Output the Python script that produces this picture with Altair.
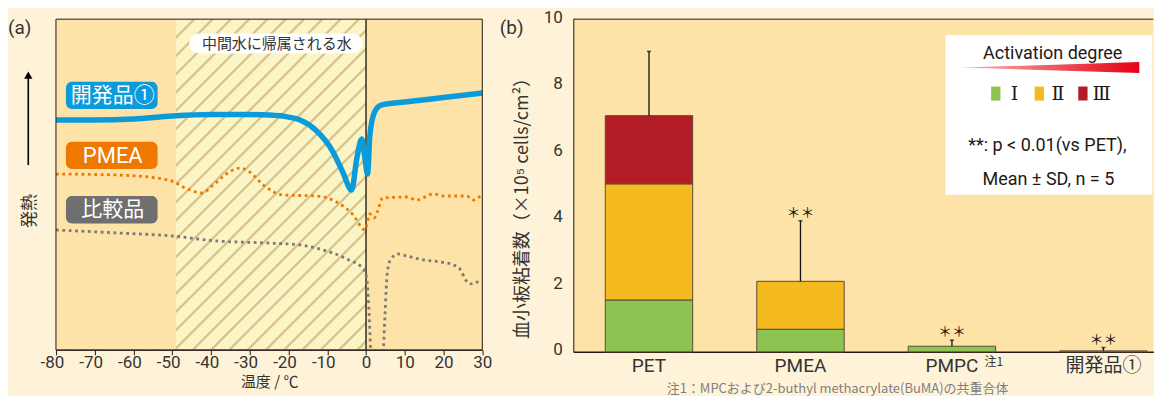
import altair as alt
import numpy as np
import pandas as pd

# ---------------- panel (a): DSC curves (temperature / °C, relative heat flow, arb. units) ----------------
dev_t = [-80, -70, -60, -50, -40, -30, -25, -20, -17, -13, -8.5, -6, -3.7, -2.4, -1.1, -0.4, 0.4, 1.0, 2.2, 3.9, 10, 20, 30]
dev_v = [230, 230, 231, 234, 235.5, 235.5, 235, 233, 230, 220, 198, 178, 160, 191, 211, 195, 176, 215, 238, 245, 248, 252.5, 257]

pmea_t = [-80, -64, -51, -46, -42.4, -39.4, -36, -32.5, -30, -26.5, -21.3, -12.7, -7.6, -3.3, -0.3, 1.0, 2.1, 2.9, 4.3, 10.5, 13, 17.4, 20, 26, 27.7, 30]
pmea_v = [176, 175, 170, 161, 157, 165, 176, 182, 178, 165, 155, 154, 148, 135, 120, 136, 132, 138, 152, 153, 150, 156, 154, 154, 150, 156]

ref_t = [-80, -64, -50, -38.5, -25.6, -17, -12, -5, -0.7, 0.2, 0.6, 1.0, 1.3, 2.0, 3.8, 4.5, 4.9, 5.5, 6.4, 8.3, 10.5, 14.8, 19.2, 22.6, 24.4, 25.7, 27, 28.3, 29.5]
ref_v = [120, 117, 114, 109, 107, 105, 101, 91, 81, 71, 51, 18, -10, -40, -40, 1, 35, 78, 91, 96, 94, 90, 88, 85, 80, 70, 66, 68, 67]

x_ticks_a = [-80, -70, -60, -50, -40, -30, -20, -10, 0, 10, 20, 30]
hatch_region = [-49, 0]          # 中間水に帰属される水
outer_regions_start = [-80, 0]
outer_regions_end = [-49, 30]

# ---------------- panel (b): platelet adhesion ----------------
cats = ["PET", "PMEA", "PMPC", "開発品①"]
lvl_names = ["Ⅰ", "Ⅱ", "Ⅲ"]
lvl1 = [1.56, 0.68, 0.17, 0.03]
lvl2 = [3.49, 1.44, 0.0, 0.0]
lvl3 = [2.05, 0.0, 0.0, 0.0]
sd_top = [9.03, 3.94, 0.35, 0.13]
sig = ["", "＊＊", "＊＊", "＊＊"]
y_ticks_b = [0, 2, 4, 6, 8, 10]

# ---------------- style ----------------
PAGE_BG = "#FEF3D9"
PLOT_BG = "#FDE3A7"
HATCH_BG = "#FBF5C6"
HATCH_LINE = "#D9C38C"
DARK = "#231815"
TXT = "#333333"
BLUE = "#0B9BDB"
ORANGE = "#EE7800"
GRAYBOX = "#6F6F6F"
GRAYLINE = "#7A7A7A"
lvl_colors = ["#8DC351", "#F4BA1F", "#B31C25"]
BAR_STROKE = "#5B4A36"
LAT = "Roboto, 'Noto Sans CJK JP', sans-serif"
JP = "'Noto Sans CJK JP', sans-serif"
SERIF = "'DejaVu Serif', 'Liberation Serif', serif"

WA, HA = 426.7, 331
WB, HB = 580.5, 333

one = pd.DataFrame({"_": [0]})

# ================= panel (a) =================
xs = alt.Scale(domain=[-80, 30], nice=False, zero=False)
ys = alt.Scale(domain=[0, HA], nice=False, zero=False)
ax_a = alt.Axis(values=x_ticks_a, labelExpr="toString(datum.value)", title="温度 / ℃",
                titleFont=JP, titleFontSize=15, titleFontWeight="normal", titleColor=TXT, titlePadding=4,
                labelFont=LAT, labelFontSize=17, labelColor=TXT, labelPadding=0, labelFlush=False,
                labelOffset={"condition": {"test": "datum.value < 0", "value": -4}, "value": 0},
                tickSize=5, tickColor=DARK, domainColor=DARK, grid=False)


def X(f):
    return alt.X(f, type="quantitative", scale=xs, axis=ax_a)


def Y(f):
    return alt.Y(f, type="quantitative", scale=ys, axis=None)


# hatch lines at 45 degrees inside the intermediate-water region
px_per_deg = WA / 110.0
span = HA / px_per_deg
h0 = np.arange(hatch_region[0] - span, hatch_region[1] + 0.01, 18.3 / px_per_deg)
hatch_df = pd.DataFrame({"t0": h0, "t1": h0 + span, "v0": 0.0, "v1": float(HA)})
hatch = alt.Chart(hatch_df).mark_rule(clip=True, color=HATCH_LINE, strokeWidth=2.3).encode(
    x=X("t0"), x2="t1", y=Y("v0"), y2="v1")

cover_df = pd.DataFrame({"a": outer_regions_start, "b": outer_regions_end})
cover = alt.Chart(cover_df).mark_rect(color=PLOT_BG).encode(
    x=X("a"), x2="b", y=alt.value(0), y2=alt.value(HA))

zero_rule = alt.Chart(one).mark_rule(color="#000000", strokeWidth=1.2).encode(x=alt.datum(0, scale=xs, axis=ax_a))

ref_line = alt.Chart(pd.DataFrame({"t": ref_t, "v": ref_v})).mark_line(
    clip=True, interpolate="monotone", color=GRAYLINE, strokeWidth=2.8, strokeDash=[2.8, 3.6]).encode(x=X("t"), y=Y("v"))
pmea_line = alt.Chart(pd.DataFrame({"t": pmea_t, "v": pmea_v})).mark_line(
    clip=True, interpolate="monotone", color=ORANGE, strokeWidth=2.8, strokeDash=[2.8, 3.6]).encode(x=X("t"), y=Y("v"))
dev_line = alt.Chart(pd.DataFrame({"t": dev_t, "v": dev_v})).mark_line(
    clip=True, interpolate="monotone", color=BLUE, strokeWidth=5.5).encode(x=X("t"), y=Y("v"))

border_a = alt.Chart(one).mark_rect(filled=False, stroke=DARK, strokeWidth=1).encode(
    x=alt.value(0), x2=alt.value(WA), y=alt.value(0), y2=alt.value(HA))


def label_box(text, color, x0, x1, y0, y1, fsize, tcolor="white", radius=6, font=LAT):
    box = alt.Chart(one).mark_rect(color=color, cornerRadius=radius).encode(
        x=alt.value(x0), x2=alt.value(x1), y=alt.value(y0), y2=alt.value(y1))
    txt = alt.Chart(one).mark_text(font=font, fontSize=fsize, color=tcolor, baseline="middle", align="center").encode(
        x=alt.value((x0 + x1) / 2 + 1), y=alt.value((y0 + y1) / 2 + 0.5), text=alt.value(text))
    return [box, txt]


annots_a = []
annots_a += label_box("開発品①", BLUE, 10, 101.7, 62.7, 90, 21)
annots_a += label_box("PMEA", ORANGE, 10, 101.7, 122.7, 150, 22)
annots_a += label_box("比較品", GRAYBOX, 10, 101.7, 177, 204.4, 21)
annots_a += label_box("中間水に帰属される水", "#FFFFFF", 133.3, 306.7, 14.4, 34.4, 15, tcolor=TXT, radius=10, font=JP)

arrow_line = alt.Chart(one).mark_rule(color="#000000", strokeWidth=1.6).encode(
    x=alt.value(-27.7), y=alt.value(57), y2=alt.value(146))
arrow_head = alt.Chart(one).mark_point(shape="triangle-up", filled=True, color="#000000", size=70, opacity=1).encode(
    x=alt.value(-27.7), y=alt.value(56))
hatsunetsu = alt.Chart(one).mark_text(font=JP, fontSize=17, color=TXT, angle=270, baseline="middle", align="center").encode(
    x=alt.value(-26), y=alt.value(192), text=alt.value("発熱"))
tag_a = alt.Chart(one).mark_text(font=LAT, fontSize=19, color=TXT, align="left", baseline="middle").encode(
    x=alt.value(-48), y=alt.value(9), text=alt.value("(a)"))

left = alt.layer(hatch, cover, zero_rule, ref_line, pmea_line, dev_line, border_a,
                 *annots_a, arrow_line, arrow_head, hatsunetsu, tag_a).properties(
    width=WA, height=HA, view=alt.ViewBackground(fill=HATCH_BG, stroke=None))

# ================= panel (b) =================
rows = []
for i, c in enumerate(cats):
    base = 0.0
    for lv, vals in zip(lvl_names, [lvl1, lvl2, lvl3]):
        if vals[i] > 0:
            rows.append({"cat": c, "level": lv, "y0": base, "y1": base + vals[i]})
        base += vals[i]
bars_df = pd.DataFrame(rows)
tot = [a + b + c for a, b, c in zip(lvl1, lvl2, lvl3)]
err_df = pd.DataFrame({"cat": cats, "tot": tot, "sd": sd_top, "sig": sig})

xb = alt.Scale(domain=cats, paddingInner=0.423, paddingOuter=0.126, align=0.838)
yb = alt.Scale(domain=[0, 10], nice=False, zero=True)
ax_xb = alt.Axis(title=None, labelAngle=0, labelFont=LAT, labelFontSize=19, labelColor=TXT, labelPadding=5,
                 ticks=False, domainColor=DARK, domainWidth=1.5)
ax_yb = alt.Axis(values=y_ticks_b, title="血小板粘着数（×10⁵ cells/cm²）", titleX=-50.5, titleY=184.5,
                 titleAngle=270, titleBaseline="middle", titleAlign="center", titleFont=JP, titleFontSize=18,
                 titleFontWeight="normal", titleColor=TXT, labelFont=LAT, labelFontSize=17, labelColor=TXT,
                 labelPadding=11, labelOffset=-2, ticks=False, grid=False, domainColor=DARK, domainWidth=1)


def XB():
    return alt.X("cat:N", scale=xb, axis=ax_xb, sort=cats)


top_rule = alt.Chart(one).mark_rule(color=DARK, strokeWidth=1).encode(y=alt.datum(10, scale=yb, axis=ax_yb))
bars = alt.Chart(bars_df).mark_bar(stroke=BAR_STROKE, strokeWidth=1).encode(
    x=XB(), y=alt.Y("y0:Q", scale=yb, axis=ax_yb), y2="y1:Q",
    color=alt.Color("level:N", scale=alt.Scale(domain=lvl_names, range=lvl_colors), legend=None))
err = alt.Chart(err_df).mark_rule(color="#111111", strokeWidth=1.3).encode(
    x=XB(), y=alt.Y("tot:Q", scale=yb, axis=ax_yb), y2="sd:Q")
caps = alt.Chart(err_df).mark_tick(color="#111111", size=4, thickness=1.6).encode(
    x=XB(), y=alt.Y("sd:Q", scale=yb, axis=ax_yb))
stars = alt.Chart(err_df).mark_text(font=JP, fontSize=14, color="#111111", baseline="middle", dy=-8).encode(
    x=XB(), y=alt.Y("sd:Q", scale=yb, axis=ax_yb), text="sig:N")

data_layer = alt.layer(top_rule, bars, err, caps, stars)

# legend (custom, drawn inside the plot)
leg_box = alt.Chart(one).mark_rect(color="#FFFFFF").encode(
    x=alt.value(372.5), x2=alt.value(579.5), y=alt.value(15.8), y2=alt.value(175.8))
leg_title = alt.Chart(one).mark_text(font=LAT, fontSize=18, color=DARK, align="center", baseline="middle").encode(
    x=alt.value(479.8), y=alt.value(34.5), text=alt.value("Activation degree"))
wedge_df = pd.DataFrame({"p": [0.0, 1.0], "lo": [0.5, 0.0], "hi": [0.5, 1.0]})
wedge = alt.Chart(wedge_df).mark_area(
    color=alt.Gradient(gradient="linear", x1=0, x2=1, y1=0, y2=0,
                       stops=[alt.GradientStop(color="#F9B5B5", offset=0),
                              alt.GradientStop(color="#E60012", offset=1)])).encode(
    x=alt.X("p:Q", scale=alt.Scale(domain=[0, 1], range=[388, 566.5]), axis=None),
    y=alt.Y("lo:Q", scale=alt.Scale(domain=[0, 1], range=[54, 43]), axis=None),
    y2="hi:Q")
leg_items = []
for i, (nm, col) in enumerate(zip(lvl_names, lvl_colors)):
    x0 = 418.2 + i * 43.6
    leg_items.append(alt.Chart(one).mark_rect(color=col).encode(
        x=alt.value(x0), x2=alt.value(x0 + 9.3), y=alt.value(67.5), y2=alt.value(81.5)))
    leg_items.append(alt.Chart(one).mark_text(font=SERIF, fontSize=19, color=DARK, align="center", baseline="middle").encode(
        x=alt.value(x0 + 23.3), y=alt.value(74.5), text=alt.value(nm)))
leg_p = alt.Chart(one).mark_text(font=LAT, fontSize=18, color=DARK, align="center", baseline="middle").encode(
    x=alt.value(474.5), y=alt.value(126.5), text=alt.value("**: p < 0.01(vs PET),"))
leg_m = alt.Chart(one).mark_text(font=LAT, fontSize=18, color=DARK, align="center", baseline="middle").encode(
    x=alt.value(475.5), y=alt.value(160.8), text=alt.value("Mean ± SD, n = 5"))
note_sup = alt.Chart(one).mark_text(font=JP, fontSize=12, color=TXT, align="left", baseline="middle").encode(
    x=alt.value(411.5), y=alt.value(343.5), text=alt.value("注1"))
footnote = alt.Chart(one).mark_text(font=JP, fontSize=13, color="#808080", align="left", baseline="middle").encode(
    x=alt.value(93.5), y=alt.value(370), text=alt.value("注1：MPCおよび2-buthyl methacrylate(BuMA)の共重合体"))
tag_b = alt.Chart(one).mark_text(font=LAT, fontSize=19, color=TXT, align="left", baseline="middle").encode(
    x=alt.value(-73.5), y=alt.value(9), text=alt.value("(b)"))

right = alt.layer(data_layer, leg_box, leg_title, wedge, *leg_items, leg_p, leg_m, note_sup, footnote, tag_b
                  ).resolve_scale(x="independent", y="independent").properties(
    width=WB, height=HB, view=alt.ViewBackground(fill=PLOT_BG, stroke=None))

chart = alt.hconcat(left, right, spacing=90.8, bounds="flush").properties(
    background=PAGE_BG, padding=0).configure_view(stroke=None)

chart.save("out.html", embed_options={"renderer": "svg", "actions": False})
